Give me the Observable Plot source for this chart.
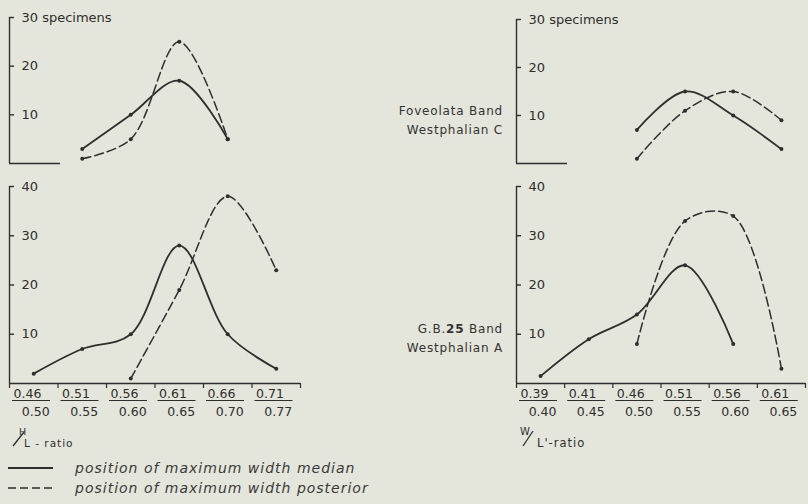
<!DOCTYPE html>
<html>
<head>
<meta charset="utf-8">
<script src="https://cdn.jsdelivr.net/npm/d3@7"></script>
<script src="https://cdn.jsdelivr.net/npm/@observablehq/plot@0.6"></script>
<style>
  html, body { margin: 0; padding: 0; background: #e4e5db; }
  #chart { position: relative; width: 808px; height: 504px; background: #e4e5db; overflow: hidden;
           font-family: "DejaVu Sans", sans-serif; color: #2e2e2e; }
  #chart svg { position: absolute; left: 0; top: 0; overflow: visible; max-width: none; }
  .grp { position: absolute; right: 305px; text-align: right; font-size: 12px; line-height: 19px;
         letter-spacing: 0.8px; white-space: nowrap; color: #333; }
</style>
</head>
<body>
<div id="chart"></div>
<script>
const ink = "#2e2e2e";

// ---- categories (ratio classes) ----
const binIndex = [0, 1, 2, 3, 4, 5];
const hlBinLow  = ["0.46", "0.51", "0.56", "0.61", "0.66", "0.71"];
const hlBinHigh = ["0.50", "0.55", "0.60", "0.65", "0.70", "0.77"];
const wlBinLow  = ["0.39", "0.41", "0.46", "0.51", "0.56", "0.61"];
const wlBinHigh = ["0.40", "0.45", "0.50", "0.55", "0.60", "0.65"];

// ---- y tick labels ----
const topTicks = [10, 20, 30];
const topTickLabels = ["10", "20", "30 specimens"];
const bottomTicks = [10, 20, 30, 40];
const bottomTickLabels = ["10", "20", "30", "40"];

// ---- series values (number of specimens per class; null = no point) ----
// Foveolata Band, Westphalian C
const foveolataHLMedian    = [null, 3, 10, 17, 5, null];
const foveolataHLPosterior = [null, 1, 5, 25, 5, null];
const foveolataWLMedian    = [null, null, 7, 15, 10, 3];
const foveolataWLPosterior = [null, null, 1, 11, 15, 9];
// G.B.25 Band, Westphalian A
const gb25HLMedian    = [2, 7, 10, 28, 10, 3];
const gb25HLPosterior = [null, null, 1, 19, 38, 23];
const gb25WLMedian    = [1.5, 9, 14, 24, 8, null];
const gb25WLPosterior = [null, null, 8, 33, 34, 3];

function series(values) {
  return values.map((v, i) => ({i, v})).filter(d => d.v != null);
}

function panel({left, right, top, bottom, yMax, yTicks, yLabels, lo, hi, median, posterior, fullAxis}) {
  const pxPerX = (808 - left - right) / 6;
  const ux = px => px / pxPerX;
  const pxPerY = (504 - top - bottom) / yMax;
  const uy = px => px / pxPerY;
  const med = series(median), post = series(posterior);
  const marks = [
    Plot.ruleX([-0.5], {y1: 0, y2: yMax, stroke: ink, strokeWidth: 1.4}),
    Plot.ruleY(yTicks, {y: d => d, x1: -0.5, x2: -0.5 + ux(5), stroke: ink, strokeWidth: 1.4}),
    Plot.text(yTicks, {x: -0.5, y: d => d, text: (d, i) => yLabels[i], dx: 12, textAnchor: "start",
                       fill: ink, fontSize: 13}),
    Plot.ruleY([0], {y: d => d, x1: -0.5, x2: fullAxis ? 5.5 : -0.5 + ux(51), stroke: ink, strokeWidth: 1.4}),
    Plot.line(med, {x: "i", y: "v", curve: "catmull-rom", stroke: ink, strokeWidth: 1.8}),
    Plot.line(post, {x: "i", y: "v", curve: "catmull-rom", stroke: ink, strokeWidth: 1.5, strokeDasharray: "9,4"}),
    Plot.dot(med, {x: "i", y: "v", r: 2, fill: ink}),
    Plot.dot(post, {x: "i", y: "v", r: 2, fill: ink})
  ];
  if (fullAxis) {
    marks.push(
      Plot.ruleX([...binIndex, 6], {x: i => i - 0.5, y1: 0, y2: -uy(5), stroke: ink, strokeWidth: 1.2}),
      Plot.text(binIndex, {x: i => i - 0.5, y: 0, text: i => lo[i], dx: 4, dy: 10, textAnchor: "start",
                           fill: ink, fontSize: 12.5}),
      Plot.ruleY(binIndex, {y: 0, x1: i => i - 0.5 + ux(3), x2: i => i - 0.5 + ux(41), dy: 17,
                            stroke: ink, strokeWidth: 1.2}),
      Plot.text(binIndex, {x: i => i, y: 0, text: i => hi[i], dx: 2, dy: 28, fill: ink, fontSize: 12.5})
    );
  }
  return Plot.plot({
    width: 808, height: 504,
    marginLeft: left, marginRight: right, marginTop: top, marginBottom: bottom,
    x: {domain: [-0.5, 5.5], axis: null},
    y: {domain: [0, yMax], axis: null},
    style: {background: "transparent", overflow: "visible", fontFamily: "DejaVu Sans, sans-serif", color: ink},
    marks
  });
}

const chart = document.getElementById("chart");

chart.append(panel({left: 9, right: 508, top: 17, bottom: 341, yMax: 30, yTicks: topTicks, yLabels: topTickLabels,
  lo: hlBinLow, hi: hlBinHigh, median: foveolataHLMedian, posterior: foveolataHLPosterior, fullAxis: false}));
chart.append(panel({left: 9, right: 508, top: 186, bottom: 121, yMax: 40, yTicks: bottomTicks, yLabels: bottomTickLabels,
  lo: hlBinLow, hi: hlBinHigh, median: gb25HLMedian, posterior: gb25HLPosterior, fullAxis: true}));
chart.append(panel({left: 516, right: 3, top: 19, bottom: 341, yMax: 30, yTicks: topTicks, yLabels: topTickLabels,
  lo: wlBinLow, hi: wlBinHigh, median: foveolataWLMedian, posterior: foveolataWLPosterior, fullAxis: false}));
chart.append(panel({left: 516, right: 3, top: 186, bottom: 121, yMax: 40, yTicks: bottomTicks, yLabels: bottomTickLabels,
  lo: wlBinLow, hi: wlBinHigh, median: gb25WLMedian, posterior: gb25WLPosterior, fullAxis: true}));

// ---- group labels ----
const g1 = document.createElement("div");
g1.className = "grp"; g1.style.top = "102px";
g1.innerHTML = "Foveolata Band<br>Westphalian C";
chart.append(g1);
const g2 = document.createElement("div");
g2.className = "grp"; g2.style.top = "320px";
g2.innerHTML = "G.B.<b>25</b> Band<br>Westphalian A";
chart.append(g2);

// ---- ratio labels and legend ----
const ns = "http://www.w3.org/2000/svg";
const ann = document.createElementNS(ns, "svg");
ann.setAttribute("width", 808); ann.setAttribute("height", 504);
ann.innerHTML = `
  <g fill="${ink}" font-family="DejaVu Sans, sans-serif">
    <text x="19" y="435" font-size="9.5">H</text>
    <line x1="13" y1="446" x2="24" y2="432" stroke="${ink}" stroke-width="1.3"/>
    <text x="24" y="447" font-size="10.5" letter-spacing="1">L - ratio</text>
    <text x="520" y="435" font-size="10">W</text>
    <line x1="523" y1="446" x2="533" y2="431" stroke="${ink}" stroke-width="1.3"/>
    <text x="537" y="447" font-size="11.5" letter-spacing="1">L'-ratio</text>
    <line x1="8" y1="468" x2="53" y2="468" stroke="${ink}" stroke-width="1.8"/>
    <line x1="8" y1="488" x2="53" y2="488" stroke="${ink}" stroke-width="1.5" stroke-dasharray="8,4"/>
    <text x="75" y="473" font-size="14" font-style="italic" letter-spacing="1" fill="#3a3a3a">position of maximum width median</text>
    <text x="75" y="493" font-size="14" font-style="italic" letter-spacing="1" fill="#3a3a3a">position of maximum width posterior</text>
  </g>`;
chart.append(ann);
</script>
</body>
</html>
